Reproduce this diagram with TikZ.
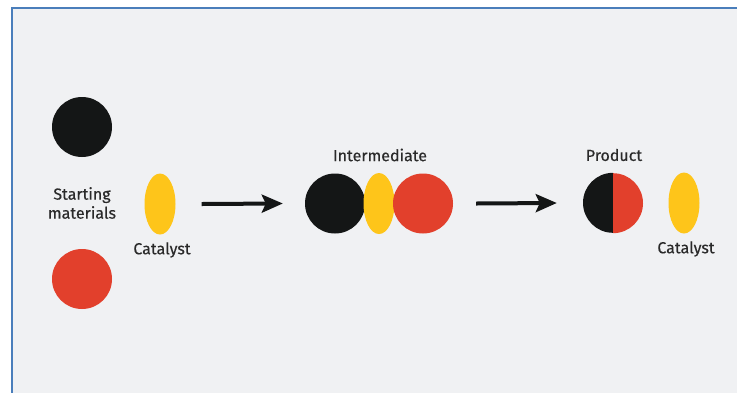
\documentclass[tikz,border=0pt]{standalone}
\usepackage{fontspec}
\setmainfont{Fira Sans}[FakeBold=0.3,UprightFeatures={FakeBold=0.3}]
\usetikzlibrary{arrows.meta,shapes.geometric}
\definecolor{bgc}{HTML}{F0F1F3}
\definecolor{framec}{HTML}{4A7EBB}
\definecolor{blk}{HTML}{141616}
\definecolor{redc}{HTML}{E2402C}
\definecolor{yel}{HTML}{FEC51A}
\definecolor{txt}{HTML}{2A2A2A}
\tikzset{
  ball/.style={circle,minimum size=60pt,inner sep=0pt,draw=none},
  blackball/.style={ball,fill=blk},
  redball/.style={ball,fill=redc},
  cat/.style={ellipse,minimum width=31pt,minimum height=61pt,inner sep=0pt,fill=yel,draw=none},
  lbl/.style={text=txt,font=\fontsize{16pt}{19pt}\selectfont,inner sep=0pt,align=center},
  arr/.style={draw=blk,line width=4pt,-{Stealth[length=21pt,width=18pt,inset=4pt]}}
}
\begin{document}
\begin{tikzpicture}[x=1pt,y=-1pt]
\useasboundingbox (0,0) rectangle (737,392);
\fill[white] (0,0) rectangle (737,392);
\filldraw[fill=bgc,draw=framec,line width=2pt] (12,8) rectangle (745,400);
% starting materials
\node[blackball] (sb) at (82,127) {};
\node[redball] (sr) at (82,279) {};
\node[lbl] (slab) at (82,203) {Starting\\materials};
\node[cat] (c1) at (160,204) {};
\node[lbl] (c1lab) at (162,250) {Catalyst};
% intermediate
\node[blackball] (ib) at (335,203.5) {};
\node[cat] (ic) at (379,203.5) {};
\node[redball] (ir) at (423,203.5) {};
\node[lbl] (ilab) at (380,155) {Intermediate};
% product
\node[ball] (pr) at (613,203) {};
\fill[blk] (pr.north) arc[start angle=90,end angle=270,radius=30pt] -- cycle;
\fill[redc] (pr.south) arc[start angle=-90,end angle=90,radius=30pt] -- cycle;
\node[lbl] (plab) at (614,155) {Product};
\node[cat] (c2) at (684,203) {};
\node[lbl] (c2lab) at (686,249) {Catalyst};
% arrows
\draw[arr] ([xshift=26pt]c1.east) -- ([xshift=-22pt]ib.west);
\draw[arr] ([xshift=23pt]ir.east) -- ([xshift=-26pt]pr.west);
\end{tikzpicture}
\end{document}
